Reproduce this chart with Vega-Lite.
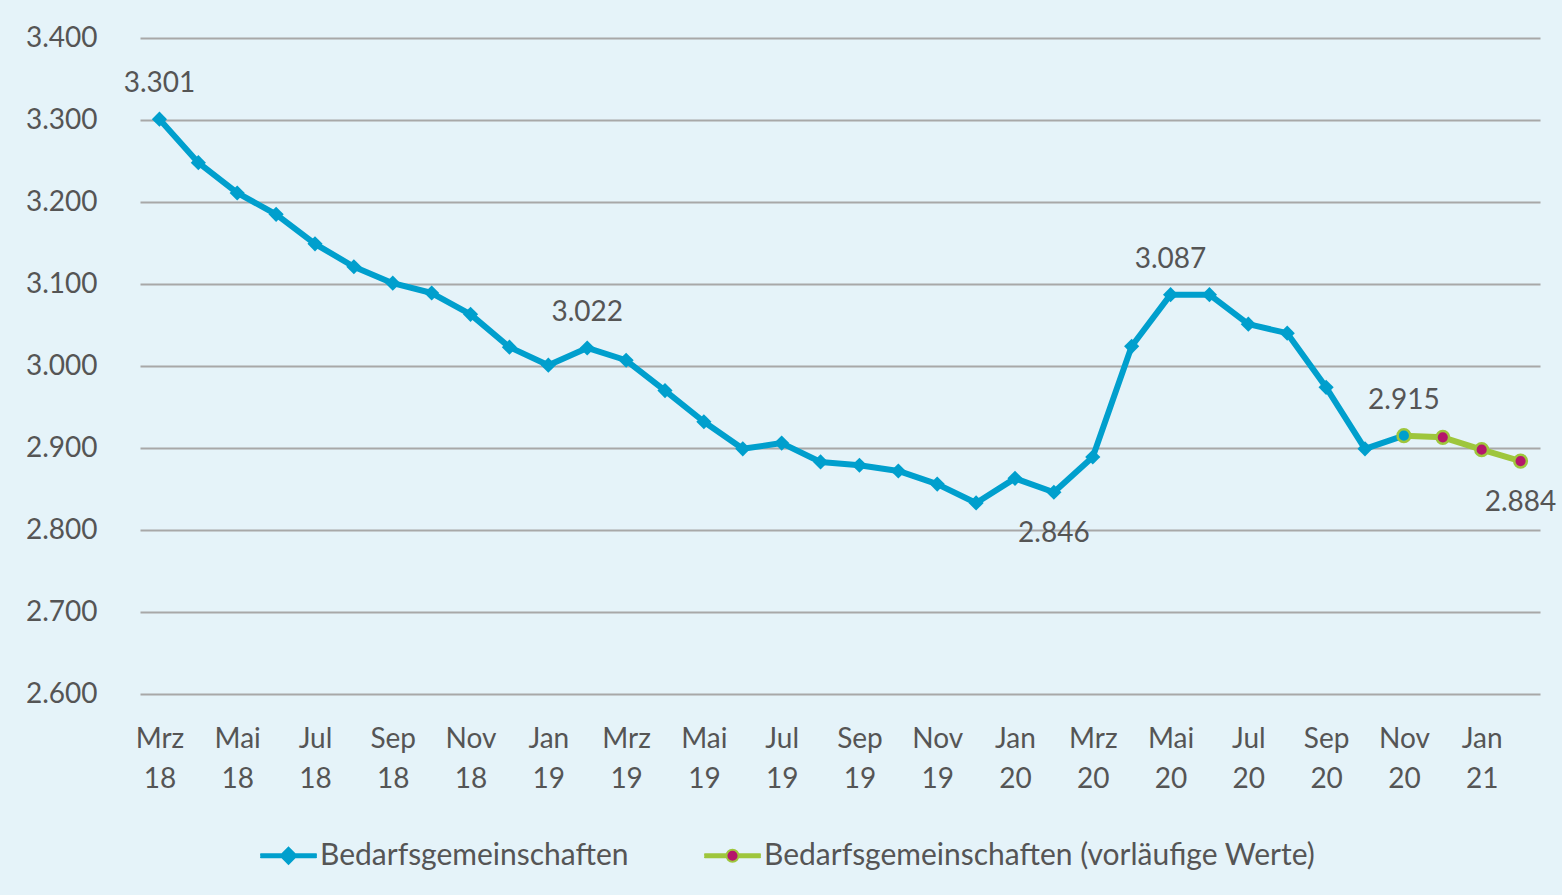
{
  "$schema": "https://vega.github.io/schema/vega-lite/v6.json",
  "autosize": "none",
  "width": 1400,
  "height": 656,
  "padding": {"left": 140, "top": 38, "right": 22, "bottom": 201},
  "background": "#e5f3f9",
  "config": {
    "font": "Lato",
    "view": {"stroke": null},
    "locale": {
      "number": {"decimal": ",", "thousands": ".", "grouping": [3], "currency": ["", " €"]}
    },
    "axis": {"labelFont": "Lato", "labelFontSize": 28, "labelColor": "#555555", "title": null}
  },
  "data": {
    "values": [
      {"m": "Mrz 18", "v": 3301, "s": "Bedarfsgemeinschaften"},
      {"m": "Apr 18", "v": 3248, "s": "Bedarfsgemeinschaften"},
      {"m": "Mai 18", "v": 3211, "s": "Bedarfsgemeinschaften"},
      {"m": "Jun 18", "v": 3185, "s": "Bedarfsgemeinschaften"},
      {"m": "Jul 18", "v": 3149, "s": "Bedarfsgemeinschaften"},
      {"m": "Aug 18", "v": 3121, "s": "Bedarfsgemeinschaften"},
      {"m": "Sep 18", "v": 3101, "s": "Bedarfsgemeinschaften"},
      {"m": "Okt 18", "v": 3089, "s": "Bedarfsgemeinschaften"},
      {"m": "Nov 18", "v": 3063, "s": "Bedarfsgemeinschaften"},
      {"m": "Dez 18", "v": 3023, "s": "Bedarfsgemeinschaften"},
      {"m": "Jan 19", "v": 3001, "s": "Bedarfsgemeinschaften"},
      {"m": "Feb 19", "v": 3022, "s": "Bedarfsgemeinschaften"},
      {"m": "Mrz 19", "v": 3007, "s": "Bedarfsgemeinschaften"},
      {"m": "Apr 19", "v": 2970, "s": "Bedarfsgemeinschaften"},
      {"m": "Mai 19", "v": 2932, "s": "Bedarfsgemeinschaften"},
      {"m": "Jun 19", "v": 2899, "s": "Bedarfsgemeinschaften"},
      {"m": "Jul 19", "v": 2906, "s": "Bedarfsgemeinschaften"},
      {"m": "Aug 19", "v": 2883, "s": "Bedarfsgemeinschaften"},
      {"m": "Sep 19", "v": 2879, "s": "Bedarfsgemeinschaften"},
      {"m": "Okt 19", "v": 2872, "s": "Bedarfsgemeinschaften"},
      {"m": "Nov 19", "v": 2856, "s": "Bedarfsgemeinschaften"},
      {"m": "Dez 19", "v": 2833, "s": "Bedarfsgemeinschaften"},
      {"m": "Jan 20", "v": 2863, "s": "Bedarfsgemeinschaften"},
      {"m": "Feb 20", "v": 2846, "s": "Bedarfsgemeinschaften"},
      {"m": "Mrz 20", "v": 2889, "s": "Bedarfsgemeinschaften"},
      {"m": "Apr 20", "v": 3024, "s": "Bedarfsgemeinschaften"},
      {"m": "Mai 20", "v": 3087, "s": "Bedarfsgemeinschaften"},
      {"m": "Jun 20", "v": 3087, "s": "Bedarfsgemeinschaften"},
      {"m": "Jul 20", "v": 3051, "s": "Bedarfsgemeinschaften"},
      {"m": "Aug 20", "v": 3040, "s": "Bedarfsgemeinschaften"},
      {"m": "Sep 20", "v": 2974, "s": "Bedarfsgemeinschaften"},
      {"m": "Okt 20", "v": 2899, "s": "Bedarfsgemeinschaften"},
      {"m": "Nov 20", "v": 2915, "s": "Bedarfsgemeinschaften"},
      {"m": "Nov 20", "v": 2915, "s": "Bedarfsgemeinschaften (vorläufige Werte)"},
      {"m": "Dez 20", "v": 2913, "s": "Bedarfsgemeinschaften (vorläufige Werte)"},
      {"m": "Jan 21", "v": 2898, "s": "Bedarfsgemeinschaften (vorläufige Werte)"},
      {"m": "Feb 21", "v": 2884, "s": "Bedarfsgemeinschaften (vorläufige Werte)"}
    ]
  },
  "encoding": {
    "x": {
      "field": "m",
      "type": "nominal",
      "sort": null,
      "scale": {
        "type": "point",
        "padding": 0.5,
        "domain": ["Mrz 18","Apr 18","Mai 18","Jun 18","Jul 18","Aug 18","Sep 18","Okt 18","Nov 18","Dez 18","Jan 19","Feb 19","Mrz 19","Apr 19","Mai 19","Jun 19","Jul 19","Aug 19","Sep 19","Okt 19","Nov 19","Dez 19","Jan 20","Feb 20","Mrz 20","Apr 20","Mai 20","Jun 20","Jul 20","Aug 20","Sep 20","Okt 20","Nov 20","Dez 20","Jan 21","Feb 21"]
      },
      "axis": {
        "values": ["Mrz 18","Mai 18","Jul 18","Sep 18","Nov 18","Jan 19","Mrz 19","Mai 19","Jul 19","Sep 19","Nov 19","Jan 20","Mrz 20","Mai 20","Jul 20","Sep 20","Nov 20","Jan 21"],
        "labelExpr": "split(datum.value, ' ')",
        "labelAngle": 0,
        "labelLineHeight": 40,
        "labelPadding": 31,
        "ticks": false,
        "domain": false,
        "grid": false
      }
    },
    "y": {
      "field": "v",
      "type": "quantitative",
      "scale": {"domain": [2600, 3400], "zero": false, "nice": false},
      "axis": {
        "values": [2600, 2700, 2800, 2900, 3000, 3100, 3200, 3300, 3400],
        "labelExpr": "format(datum.value, ',.0f')",
        "ticks": false,
        "domain": false,
        "grid": true,
        "gridColor": "#a8a8a8",
        "gridWidth": 2,
        "labelPadding": 43
      }
    }
  },
  "layer": [
    {
      "mark": {"type": "line", "strokeWidth": 6, "strokeJoin": "round"},
      "encoding": {
        "color": {
          "field": "s",
          "type": "nominal",
          "scale": {
            "domain": ["Bedarfsgemeinschaften", "Bedarfsgemeinschaften (vorläufige Werte)"],
            "range": ["#009fcd", "#9ec63c"]
          },
          "legend": {
            "title": null,
            "orient": "none",
            "legendX": 120,
            "legendY": 789,
            "direction": "horizontal",
            "padding": 0,
            "columnPadding": 72,
            "labelOffset": 3,
            "labelFont": "Lato",
            "labelFontSize": 30,
            "labelColor": "#555555",
            "labelLimit": 800,
            "symbolSize": 3025,
            "encode": {
              "symbols": {
                "update": {
                  "shape": {"signal": "datum.value === 'Bedarfsgemeinschaften' ? 'M-1,-0.055L1,-0.055M-1,0L1,0M-1,0.055L1,0.055M0,-0.29L0.29,0L0,0.29L-0.29,0Z' : 'M-1,-0.055L-0.22,-0.055M-1,0L-0.22,0M-1,0.055L-0.22,0.055M0.22,-0.055L1,-0.055M0.22,0L1,0M0.22,0.055L1,0.055M0.22,0A0.22,0.22,0,1,1,-0.22,0A0.22,0.22,0,1,1,0.22,0Z'"},
                  "fill": {"signal": "datum.value === 'Bedarfsgemeinschaften' ? '#009fcd' : '#b5166b'"},
                  "stroke": {"signal": "datum.value === 'Bedarfsgemeinschaften' ? '#009fcd' : '#9ec63c'"},
                  "strokeWidth": {"value": 2},
                  "strokeCap": {"value": "round"},
                  "size": {"value": 3025},
                  "opacity": {"value": 1}
                }
              }
            }
          }
        }
      }
    },
    {
      "transform": [{"filter": "datum.s === 'Bedarfsgemeinschaften' && datum.m !== 'Nov 20'"}],
      "mark": {"type": "point", "shape": "diamond", "filled": true, "size": 230, "color": "#009fcd", "opacity": 1}
    },
    {
      "transform": [{"filter": "datum.s !== 'Bedarfsgemeinschaften'"}],
      "mark": {"type": "point", "shape": "circle", "filled": true, "size": 160, "stroke": "#9ec63c", "strokeWidth": 2.5, "opacity": 1},
      "encoding": {
        "fill": {
          "condition": {"test": "datum.m === 'Nov 20'", "value": "#009fcd"},
          "value": "#b5166b"
        }
      }
    },
    {
      "transform": [{"filter": "datum.s === 'Bedarfsgemeinschaften' && (datum.m === 'Mrz 18' || datum.m === 'Feb 19' || datum.m === 'Mai 20' || datum.m === 'Nov 20')"}],
      "mark": {"type": "text", "dy": -35, "fontSize": 28, "font": "Lato", "color": "#555555"},
      "encoding": {"text": {"field": "v", "type": "quantitative", "format": ",.0f"}}
    },
    {
      "transform": [{"filter": "(datum.s === 'Bedarfsgemeinschaften' && datum.m === 'Feb 20') || datum.m === 'Feb 21'"}],
      "mark": {"type": "text", "dy": 42, "fontSize": 28, "font": "Lato", "color": "#555555"},
      "encoding": {"text": {"field": "v", "type": "quantitative", "format": ",.0f"}}
    }
  ]
}
